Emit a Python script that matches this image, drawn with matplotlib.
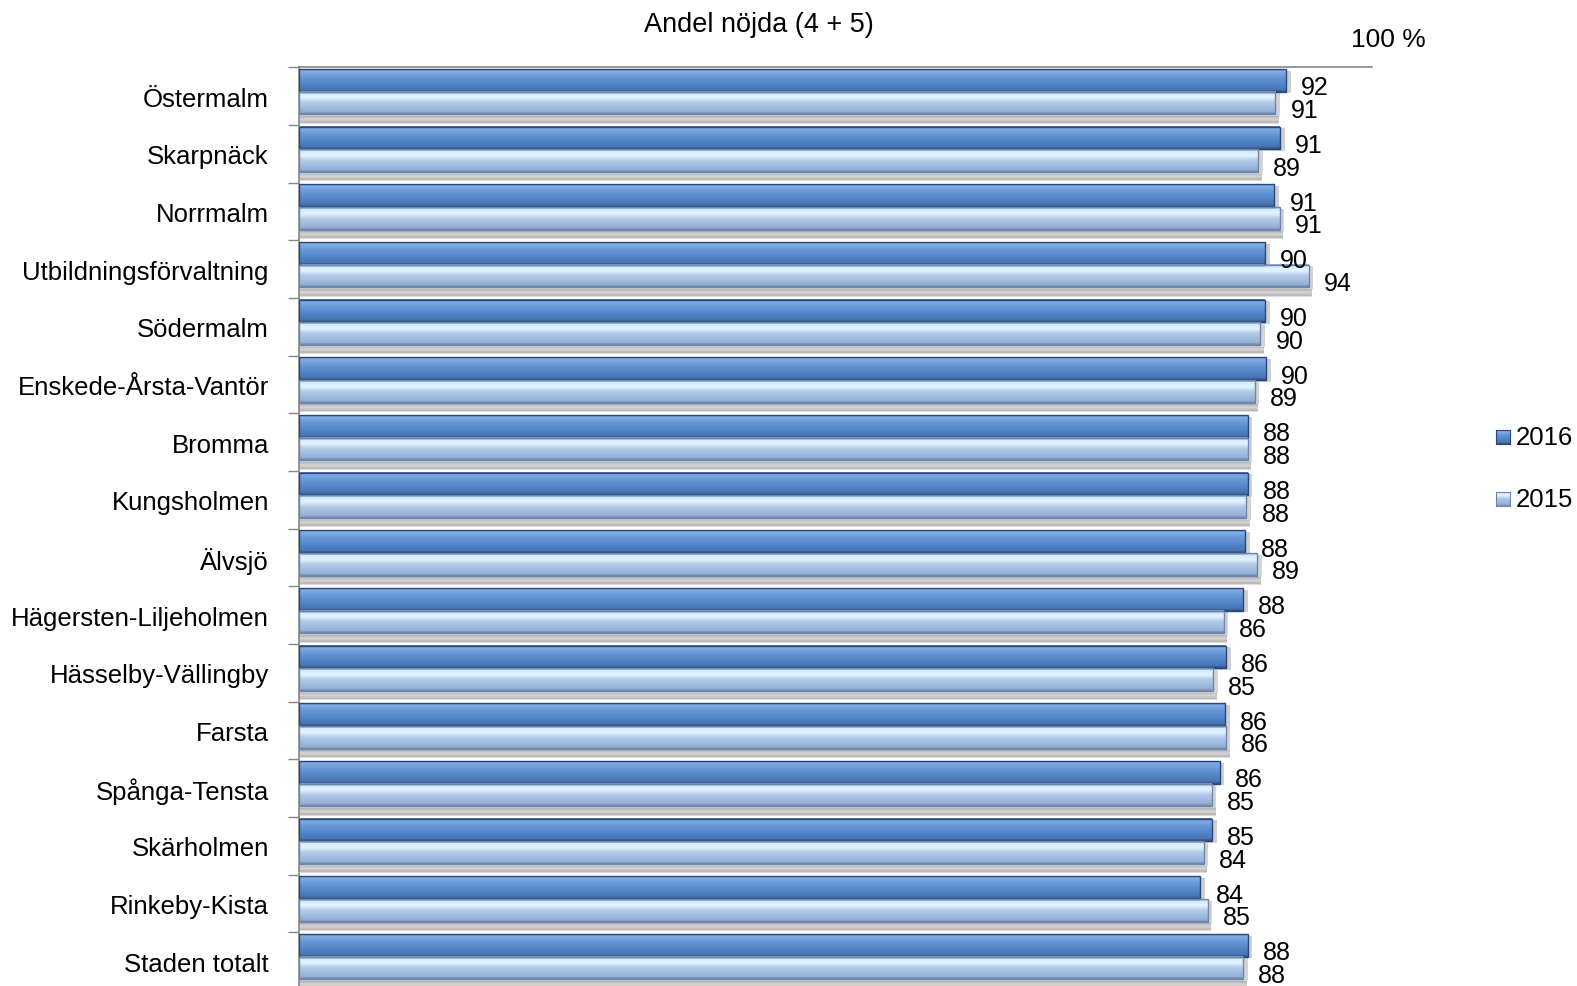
import numpy as np
import matplotlib
matplotlib.use("Agg")
import matplotlib.pyplot as plt
from matplotlib.patches import Rectangle

plt.rcParams['font.family'] = ['Liberation Sans', 'DejaVu Sans']

# Data
categories = ["Östermalm", "Skarpnäck", "Norrmalm", "Utbildningsförvaltning", "Södermalm",
              "Enskede-Årsta-Vantör", "Bromma", "Kungsholmen", "Älvsjö",
              "Hägersten-Liljeholmen", "Hässelby-Vällingby", "Farsta", "Spånga-Tensta",
              "Skärholmen", "Rinkeby-Kista", "Staden totalt"]
v2016 = [92.0, 91.4, 90.9, 90.0, 90.0, 90.1, 88.4, 88.4, 88.2, 88.0, 86.4, 86.3, 85.8, 85.1, 84.0, 88.4]
v2015 = [91.0, 89.4, 91.4, 94.1, 89.6, 89.1, 88.4, 88.3, 89.3, 86.2, 85.2, 86.4, 85.1, 84.3, 84.7, 88.0]
series = ["2016", "2015"]


def gradient(stops, n=64):
    # stops: list of (pos, hexcolor) -> (n,1,3) array for imshow
    pos = [s[0] for s in stops]
    rgb = np.array([matplotlib.colors.to_rgb(s[1]) for s in stops])
    t = np.linspace(0, 1, n)
    g = np.stack([np.interp(t, pos, rgb[:, k]) for k in range(3)], axis=1)
    return g[:, None, :]


grad16 = gradient([(0, '#3d64a0'), (0.06, '#86b0e6'), (0.35, '#6696d6'),
                   (0.7, '#5081c3'), (0.9, '#4875b3'), (1, '#2c4a7a')])
grad15 = gradient([(0, '#7f9cc6'), (0.08, '#d2eaff'), (0.28, '#e4f4ff'),
                   (0.5, '#b2cae8'), (0.9, '#94afd6'), (1, '#6d84a8')])
shadow = gradient([(0, '#8c8c8c'), (0.25, '#b8b8b8'), (0.55, '#d8d8d8'),
                   (0.85, '#b0b0b0'), (1, '#f0f0f0')])

fig = plt.figure(figsize=(15.77, 9.87), dpi=100)
ax = fig.add_axes([0.1898, -0.0041, 0.6802, 0.9349])

# bar slots inside each category row (row = 1 unit)
top16, bot16 = 0.03, 0.42
top15, bot15 = 0.42, 0.815
sh_top, sh_bot = 0.815, 0.975

for i, (a, b) in enumerate(zip(v2016, v2015)):
    # shadow band under the pair
    ax.imshow(shadow, extent=(0, b + 0.3, i + sh_bot, i + sh_top), aspect='auto',
              interpolation='bilinear', zorder=1)
    # soft right-side shadows
    ax.add_patch(Rectangle((0, i + top16 + 0.03), a + 0.45, bot16 - top16,
                           facecolor='#cfcfcf', edgecolor='none', zorder=1))
    ax.add_patch(Rectangle((0, i + top15 + 0.03), b + 0.4, bot15 - top15,
                           facecolor='#d4d4d4', edgecolor='none', zorder=1))
    ax.imshow(grad16, extent=(0, a, i + bot16, i + top16), aspect='auto',
              interpolation='bilinear', zorder=2)
    ax.imshow(grad15, extent=(0, b, i + bot15, i + top15), aspect='auto',
              interpolation='bilinear', zorder=2)

y = np.arange(len(categories))
ax.barh(y + top16, v2016, height=bot16 - top16, align='edge', facecolor='none',
        edgecolor='#2a4778', linewidth=1.0, zorder=3)
ax.barh(y + top15, v2015, height=bot15 - top15, align='edge', facecolor='none',
        edgecolor='#6f86aa', linewidth=1.0, zorder=3)

# value labels
for i, (a, b) in enumerate(zip(v2016, v2015)):
    ax.text(a + 1.4, i + (top16 + bot16) / 2 + 0.12, f"{round(a)}", ha='left', va='center',
            fontsize=18, color='black', zorder=4)
    ax.text(b + 1.4, i + (top15 + bot15) / 2 + 0.12, f"{round(b)}", ha='left', va='center',
            fontsize=18, color='black', zorder=4)

ax.set_xlim(0, 100)
ax.set_ylim(len(categories), 0)
ax.set_xticks([])
ax.set_yticks(np.arange(len(categories) + 1))
ax.set_yticklabels([])
ax.set_yticks(y + 0.5, minor=True)
ax.set_yticklabels(categories, minor=True, fontsize=18.5)
ax.tick_params(axis='y', which='major', length=8, width=1, color='#868686', direction='out')
ax.tick_params(axis='y', which='minor', length=0, pad=22)

for side in ['right', 'bottom']:
    ax.spines[side].set_visible(False)
for side in ['left', 'top']:
    ax.spines[side].set_color('#868686')
    ax.spines[side].set_linewidth(1.2)
ax.patch.set_alpha(0)

# title and axis end label
fig.text(759 / 1577, 1 - 25 / 987, "Andel nöjda (4 + 5)", ha='center', va='center', fontsize=19.5)
fig.text(1388 / 1577, 1 - 40 / 987, "100 %", ha='center', va='center', fontsize=19)

# legend
for k, (name, g, ec) in enumerate(zip(series, [grad16, grad15], ['#2a4778', '#6f86aa'])):
    yc = 1 - (438 + 62 * k) / 987
    lax = fig.add_axes([1496 / 1577, yc - 7 / 987, 14 / 1577, 14 / 987])
    lax.imshow(g, extent=(0, 1, 0, 1), aspect='auto', interpolation='bilinear')
    lax.set_xticks([])
    lax.set_yticks([])
    for s in lax.spines.values():
        s.set_color(ec)
    fig.text(1516 / 1577, yc, name, ha='left', va='center', fontsize=18.5)

fig.savefig("out.png", dpi=100)
